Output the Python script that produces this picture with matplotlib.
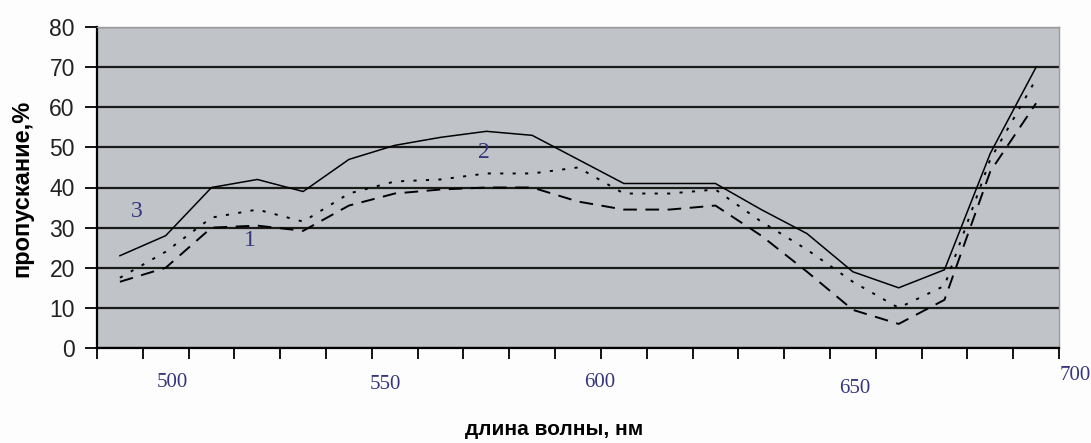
import numpy as np
import matplotlib
matplotlib.use("Agg")
import matplotlib.pyplot as plt

plt.rcParams['font.family'] = ['Liberation Sans', 'DejaVu Sans']

# длины волн (категории) и пропускание, %
wavelengths = [490, 500, 510, 520, 530, 540, 550, 560, 570, 580, 590,
               600, 610, 620, 630, 640, 650, 660, 670, 680, 690]
curve_3 = [23, 28, 40, 42, 39, 47, 50.5, 52.5, 54, 53, 47,
           41, 41, 41, 34.5, 28.5, 19, 15, 19.5, 48.5, 70]
curve_2 = [17.5, 24, 32.5, 34.5, 31.5, 38.5, 41.5, 42, 43.5, 43.5, 45,
           38.5, 38.5, 39.5, 31.5, 24.5, 16.5, 10, 15.5, 47, 67]
curve_1 = [16.5, 20, 30, 30.5, 29.2, 35.5, 38.5, 39.5, 40, 40, 36.5,
           34.5, 34.5, 35.5, 28, 19, 9.5, 6, 12, 44, 61]

# подписи оси x (вставлены вручную, как в оригинале)
xlabels = ['500', '550', '600', '650', '700']
xlabel_pos = [1.14, 5.79, 10.48, 16.05, 20.85]
xlabel_y = [-8.7, -9.2, -8.7, -10.0, -6.8]

# номера кривых
curve_names = ['3', '1', '2']
name_pos = [(0.37, 33.9), (2.84, 26.9), (7.95, 48.6)]

navy = '#35357e'

fig = plt.figure(figsize=(10.91, 4.43), dpi=100, facecolor='#fdfdfd')
ax = fig.add_axes([97/1091, 1-348/443, 962/1091, 321/443])
ax.set_facecolor('#c0c3c8')

x = np.arange(len(wavelengths))
ax.plot(x, curve_3, color='black', lw=1.1, ls='-', zorder=3)
ax.plot(x, curve_2, color='black', lw=1.4, ls=(0, (1.6, 4.8)), zorder=3)
ax.plot(x, curve_1, color='black', lw=1.4, ls=(0, (7, 4.4)), zorder=3)

ax.set_xlim(-0.5, len(wavelengths) - 0.5)
ax.set_ylim(0, 80)

# сетка
ax.set_yticks(np.arange(0, 81, 10))
ax.grid(axis='y', color='#1a1a1a', lw=1.6)
ax.set_axisbelow(True)

# деления по границам категорий
ax.set_xticks(np.arange(-0.5, len(wavelengths), 1))
ax.set_xticklabels([])
ax.tick_params(axis='x', direction='out', length=8, width=1.3, color='black')
ax.tick_params(axis='y', direction='out', length=9, width=1.3, color='black',
               labelsize=16.5, pad=7, labelcolor='#222222')

for s in ['left', 'bottom']:
    ax.spines[s].set_color('black')
    ax.spines[s].set_linewidth(1.6)
for s in ['top', 'right']:
    ax.spines[s].set_color('#9c9c9c')
    ax.spines[s].set_linewidth(1.0)

for lab, px, py in zip(xlabels, xlabel_pos, xlabel_y):
    ax.text(px, py, lab, ha='center', va='center', fontsize=15,
            family='Liberation Serif', color=navy, clip_on=False)

for name, (px, py) in zip(curve_names, name_pos):
    ax.text(px, py, name, ha='center', va='center', fontsize=17,
            family='Liberation Serif', color=navy, zorder=4)

ax.set_ylabel('пропускание,%', fontsize=17, fontweight='bold')
ax.yaxis.set_label_coords(-0.078, 0.498)
ax.yaxis.label.set_va('center')
ax.set_xlabel('длина волны, нм', fontsize=15, fontweight='bold')
ax.xaxis.set_label_coords(0.475, -0.255)
ax.xaxis.label.set_va('center')

fig.savefig('out.png', dpi=100, facecolor=fig.get_facecolor())
